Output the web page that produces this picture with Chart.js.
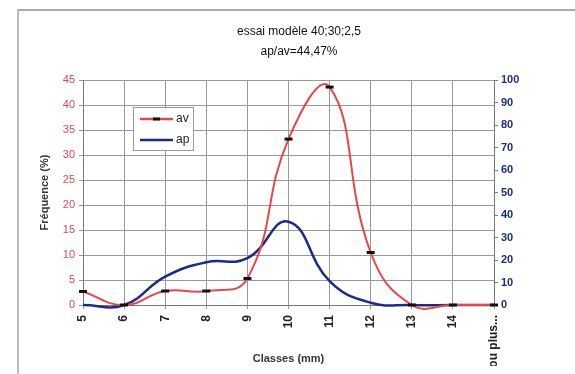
<!DOCTYPE html>
<html lang="fr">
<head>
    <meta charset="UTF-8">
    <title>essai modèle 40;30;2,5</title>
    <style>
        body {
            margin: 0;
            background: #fff;
            font-family: Arial, "Liberation Sans", sans-serif;
        }
        .wrap {
            position: relative;
            width: 575px;
            height: 374px;
        }
        .frame {
            position: absolute;
            left: 17px;
            top: 9px;
            width: 560px;
            height: 370px;
            border-top: 2px solid #aaa;
            border-left: 2px solid #bbb;
        }
        #chart {
            position: absolute;
            left: 0;
            top: 0;
        }
    </style>
    <script src="https://cdn.jsdelivr.net/npm/chart.js"></script>
</head>
<body>
<div class="wrap">
    <div class="frame"></div>
    <canvas id="chart" width="575" height="374"></canvas>
</div>

<script>
    // values
    const classes = ['5', '6', '7', '8', '9', '10', '11', '12', '13', '14', 'ou plus...'];
    const avValues = [2.7, 0, 2.8, 2.8, 5.3, 33.2, 43.6, 10.5, 0, 0, 0];   // Fréquence (%), left axis
    const apValues = [0, 0, 12.6, 19, 20.8, 37, 10.6, 1, 0, 0, 0];        // right axis
    const leftTicks = [0, 5, 10, 15, 20, 25, 30, 35, 40, 45];
    const rightTicks = [0, 10, 20, 30, 40, 50, 60, 70, 80, 90, 100];

    const RED = '#e8474a';
    const BLUE = '#1b2b88';

    // legend box sitting inside the plot, like the excel one
    const boxLegend = {
        id: 'boxLegend',
        afterDraw(chart) {
            const c = chart.ctx;
            const x = chart.chartArea.left + 50, y = 107;
            c.save();
            c.fillStyle = '#fff';
            c.fillRect(x, y, 60, 43);
            c.strokeStyle = '#999';
            c.lineWidth = 1;
            c.strokeRect(x + 0.5, y + 0.5, 60, 43);
            c.lineWidth = 2.5;
            c.strokeStyle = RED;
            c.beginPath(); c.moveTo(x + 7, y + 12); c.lineTo(x + 40, y + 12); c.stroke();
            c.strokeStyle = '#111';
            c.lineWidth = 3;
            c.beginPath(); c.moveTo(x + 20, y + 12); c.lineTo(x + 27, y + 12); c.stroke();
            c.strokeStyle = BLUE;
            c.lineWidth = 2.5;
            c.beginPath(); c.moveTo(x + 7, y + 33); c.lineTo(x + 40, y + 33); c.stroke();
            c.fillStyle = '#222';
            c.font = '12px Arial, "Liberation Sans"';
            c.textBaseline = 'middle';
            c.fillText('av', x + 43, y + 12);
            c.fillText('ap', x + 43, y + 33);
            c.restore();
        }
    };

    new Chart(document.getElementById('chart'), {
        type: 'line',
        data: {
            labels: classes,
            datasets: [{
                label: 'av',
                data: avValues,
                yAxisID: 'y',
                borderColor: RED,
                borderWidth: 2,
                tension: 0.45,
                pointStyle: 'line',
                pointRadius: 4,
                pointBorderColor: '#111',
                pointBorderWidth: 3,
                pointBackgroundColor: '#111',
                fill: false
            }, {
                label: 'ap',
                data: apValues,
                yAxisID: 'y2',
                borderColor: BLUE,
                borderWidth: 2.5,
                tension: 0.45,
                pointRadius: 0,
                fill: false
            }]
        },
        options: {
            responsive: false,
            animation: false,
            clip: false,
            elements: { line: { capBezierPoints: false } },
            layout: { padding: { left: 38, right: 15, top: 10, bottom: 8 } },
            plugins: {
                legend: { display: false },
                tooltip: { enabled: false },
                title: {
                    display: true,
                    text: ['essai modèle 40;30;2,5', 'ap/av=44,47%'],
                    color: '#111',
                    font: { size: 12, family: 'Arial, "Liberation Sans"', weight: 'normal', lineHeight: 1.67 },
                    padding: { top: 12, bottom: 18 }
                }
            },
            scales: {
                x: {
                    offset: false,
                    grid: { color: '#999', lineWidth: 1, tickLength: 4 },
                    border: { color: '#777' },
                    ticks: {
                        minRotation: 90,
                        maxRotation: 90,
                        padding: 6,
                        color: '#222',
                        font: { size: 12, weight: 'bold', family: 'Arial, "Liberation Sans"' }
                    },
                    title: {
                        display: true,
                        text: 'Classes (mm)',
                        color: '#333',
                        font: { size: 11, weight: 'bold', family: 'Arial, "Liberation Sans"' },
                        padding: { top: 0, bottom: 0 }
                    },
                    afterFit(scale) { scale.height = 61; }
                },
                y: {
                    position: 'left',
                    min: 0,
                    max: 45,
                    afterBuildTicks(scale) { scale.ticks = leftTicks.map(v => ({ value: v })); },
                    grid: { color: '#999', lineWidth: 1, tickLength: 4 },
                    border: { color: '#777' },
                    ticks: {
                        color: RED,
                        padding: 4,
                        font: { size: 11, family: 'Arial, "Liberation Sans"' }
                    },
                    title: {
                        display: true,
                        text: 'Fréquence (%)',
                        color: '#333',
                        font: { size: 11, weight: 'bold', family: 'Arial, "Liberation Sans"' },
                        padding: { top: 0, bottom: 4 }
                    },
                    afterFit(scale) { scale.width = 45; }
                },
                y2: {
                    position: 'right',
                    min: 0,
                    max: 100,
                    afterBuildTicks(scale) { scale.ticks = rightTicks.map(v => ({ value: v })); },
                    grid: { drawOnChartArea: false, color: '#777', tickLength: 4 },
                    border: { color: '#777' },
                    ticks: {
                        color: BLUE,
                        padding: 3,
                        font: { size: 11, weight: 'bold', family: 'Arial, "Liberation Sans"' }
                    },
                    afterFit(scale) { scale.width = 66; }
                }
            }
        },
        plugins: [boxLegend]
    });
</script>
</body>
</html>
